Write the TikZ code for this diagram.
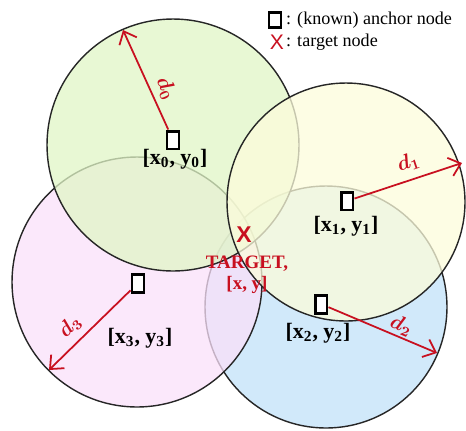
\documentclass[tikz,border=0pt]{standalone}
\usepackage{fontspec}
\setmainfont{Liberation Serif}
\newfontfamily\xfont{Liberation Sans}
\usetikzlibrary{arrows.meta,positioning}
\definecolor{cgreen}{RGB}{224,246,198}
\definecolor{cyellow}{RGB}{252,252,219}
\definecolor{cblue}{RGB}{194,225,248}
\definecolor{cpink}{RGB}{250,224,250}
\definecolor{tred}{RGB}{200,16,32}

\begin{document}
\begin{tikzpicture}[x=0.02cm, y=-0.02cm,
	disc/.style={draw=black!85, line width=0.8pt, fill opacity=0.75},
	known/.style={draw, line width=1.7pt, fill=white, minimum width=0.24cm, minimum height=0.36cm, inner sep=0pt},
	dist/.style={draw=tred, line width=1pt, -{Straight Barb[length=2.2mm, width=3.8mm]}},
	dlab/.style={text=tred, font=\fontsize{12}{14}\selectfont\boldmath, inner sep=1pt},
	coord/.style={font=\bfseries\fontsize{12.5}{14}\selectfont},
	tx/.style={text=tred, font=\xfont\bfseries\fontsize{13}{14}\selectfont, inner sep=0pt},
	lfont/.style={font=\fontsize{10.3}{12}\selectfont, inner sep=1pt}]
	\useasboundingbox (0,0) rectangle (466,430);
	% range circles
	\draw[disc, fill=cblue] (326,307) circle (2.42cm);
	\draw[disc, fill=cpink] (137,282) circle (2.5cm);
	\draw[disc, fill=cgreen] (173,145) circle (2.52cm);
	\draw[disc, fill=cyellow] (346,202) circle (2.38cm);
	% anchors
	\node[known] (a0) at (173,140) {};
	\node[known] (a1) at (347,201) {};
	\node[known] (a2) at (321,304) {};
	\node[known] (a3) at (138,283) {};
	\node[coord] (p0) at (175,159) {[x\textsubscript{0}, y\textsubscript{0}]};
	\node[coord] (p1) at (346,226) {[x\textsubscript{1}, y\textsubscript{1}]};
	\node[coord] (p2) at (318,333) {[x\textsubscript{2}, y\textsubscript{2}]};
	\node[coord] (p3) at (140,338) {[x\textsubscript{3}, y\textsubscript{3}]};
	% distances
	\coordinate (e0) at (123,30);
	\coordinate (e1) at (462,163);
	\coordinate (e2) at (437,353);
	\coordinate (e3) at (49,370);
	\draw[dist] (a0) -- (e0) node[dlab, pos=0.35, sloped, above=2pt] {$d_0$};
	\draw[dist] (a1) -- (e1) node[dlab, pos=0.55, sloped, above=3pt] {$d_1$};
	\draw[dist] (a2) -- (e2) node[dlab, pos=0.63, sloped, above] {$d_2$};
	\draw[dist] (a3) -- (e3) node[dlab, pos=0.6, sloped, above=3pt] {$d_3$};
	% target
	\node[tx] (xm) at (244,235) {X};
	\node[text=tred, font=\bfseries\fontsize{10.8}{12}\selectfont, align=center, inner sep=0pt] (tgt) at (247,275) {TARGET,\\{}[x, y]};
	% legend
	\node[known, line width=1.5pt, minimum width=0.24cm, minimum height=0.3cm] (lbox) at (275,20) {};
	\node[lfont, right=1pt of lbox] (ltxt) {: (known) anchor node};
	\node[tx, font=\xfont\fontsize{12}{14}\selectfont] (lx) at (277,42) {X};
	\node[lfont, anchor=west] (ltgt) at (ltxt.west |- lx) {: target node};
\end{tikzpicture}
\end{document}
